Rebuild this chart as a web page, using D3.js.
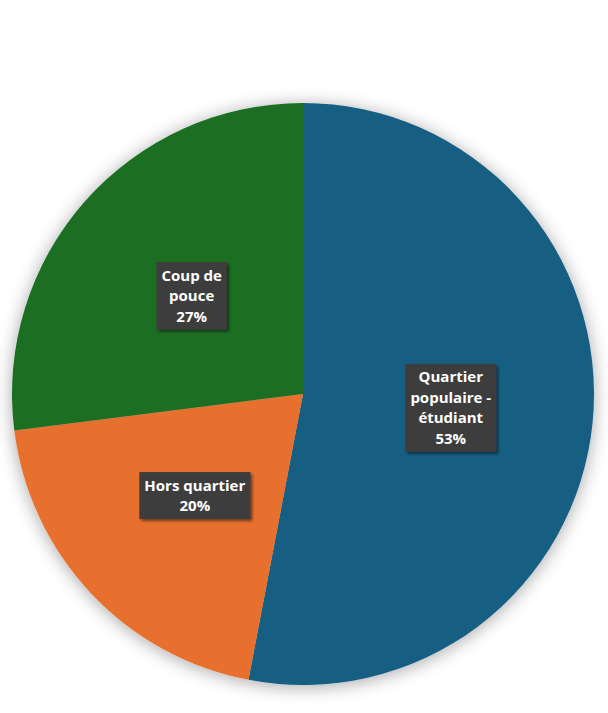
<!DOCTYPE html>
<html>
<head>
<meta charset="utf-8">
<script src="https://cdn.jsdelivr.net/npm/d3@7"></script>
<style>
  html, body { margin: 0; padding: 0; background: #ffffff; }
  svg { display: block; }
</style>
</head>
<body>
<div id="chart"></div>
<script>
// Données
const categories = ["Quartier populaire - étudiant", "Hors quartier", "Coup de pouce"];
const labelLines = [["Quartier", "populaire -", "étudiant"], ["Hors quartier"], ["Coup de", "pouce"]];
const values = [53, 20, 27];
const colors = ["#175f82", "#e8702f", "#1c6e22"];

const width = 608, height = 713;
const cx = 303, cy = 394, radius = 291;

const svg = d3.select("#chart").append("svg")
    .attr("width", width)
    .attr("height", height);

const defs = svg.append("defs");

// ombre douce autour du camembert
const shadow = defs.append("filter")
    .attr("id", "pieShadow")
    .attr("x", "-20%").attr("y", "-20%")
    .attr("width", "140%").attr("height", "140%");
shadow.append("feGaussianBlur").attr("in", "SourceAlpha").attr("stdDeviation", 9);
shadow.append("feOffset").attr("dx", 0).attr("dy", 2).attr("result", "blur");
shadow.append("feComponentTransfer").append("feFuncA").attr("type", "linear").attr("slope", 0.35);
const m1 = shadow.append("feMerge");
m1.append("feMergeNode");
m1.append("feMergeNode").attr("in", "SourceGraphic");

// ombre des étiquettes
const lblShadow = defs.append("filter")
    .attr("id", "lblShadow")
    .attr("x", "-20%").attr("y", "-20%")
    .attr("width", "140%").attr("height", "140%");
lblShadow.append("feGaussianBlur").attr("in", "SourceAlpha").attr("stdDeviation", 1.5);
lblShadow.append("feOffset").attr("dx", 2).attr("dy", 2);
lblShadow.append("feComponentTransfer").append("feFuncA").attr("type", "linear").attr("slope", 0.5);
const m2 = lblShadow.append("feMerge");
m2.append("feMergeNode");
m2.append("feMergeNode").attr("in", "SourceGraphic");

const pie = d3.pie().sort(null).value(d => d)(values);
const arc = d3.arc().innerRadius(0).outerRadius(radius);
const labelArc = d3.arc().innerRadius(radius * 0.51).outerRadius(radius * 0.51);

const g = svg.append("g").attr("transform", `translate(${cx},${cy})`);

g.append("g")
    .attr("filter", "url(#pieShadow)")
    .selectAll("path")
    .data(pie)
    .join("path")
    .attr("d", arc)
    .attr("fill", (d, i) => colors[i]);

const lineH = 20.5;
const labels = g.selectAll("g.lbl")
    .data(pie)
    .join("g")
    .attr("class", "lbl")
    .attr("transform", d => `translate(${labelArc.centroid(d)})`);

labels.each(function(d, i) {
    const sel = d3.select(this);
    const lines = labelLines[i].concat([values[i] + "%"]);
    const box = sel.append("rect")
        .attr("fill", "#3c3c3c")
        .attr("filter", "url(#lblShadow)");
    const txt = sel.append("text")
        .attr("text-anchor", "middle")
        .style("font-family", "'Open Sans', 'Liberation Sans', Arial, sans-serif")
        .style("font-weight", "700")
        .style("font-size", "15px")
        .attr("fill", "#ffffff");
    const y0 = -(lines.length - 1) * lineH / 2;
    lines.forEach((l, k) => {
        txt.append("tspan")
            .attr("x", 0)
            .attr("y", y0 + k * lineH)
            .attr("dy", "0.35em")
            .text(l);
    });
    const bb = txt.node().getBBox();
    box.attr("x", bb.x - 5)
        .attr("y", y0 - lineH / 2 - 3)
        .attr("width", bb.width + 10)
        .attr("height", lines.length * lineH + 6);
});
</script>
</body>
</html>
